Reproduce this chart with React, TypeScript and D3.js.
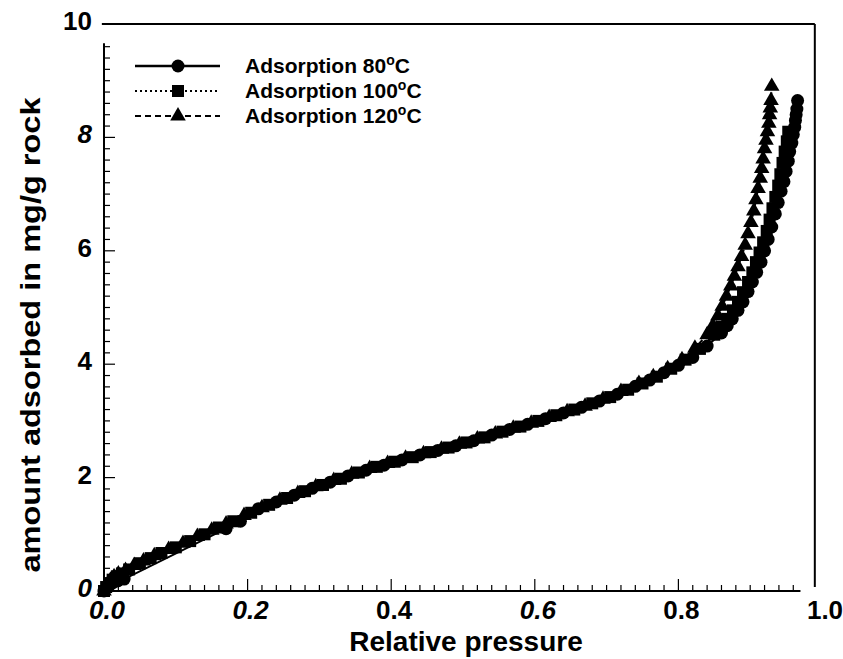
import React, { useRef, useEffect } from "react";
import * as d3 from "d3";

// adsorption isotherms
const pressure80 = [0, 0.004, 0.008, 0.013, 0.019, 0.028, 0.17, 0.19, 0.215, 0.24, 0.265, 0.29, 0.315, 0.34, 0.365, 0.39, 0.415, 0.44, 0.465, 0.49, 0.515, 0.54, 0.565, 0.59, 0.615, 0.64, 0.665, 0.69, 0.715, 0.74, 0.76, 0.78, 0.8, 0.82, 0.84, 0.86, 0.868, 0.875, 0.883, 0.89, 0.897, 0.903, 0.909, 0.915, 0.92, 0.925, 0.93, 0.935, 0.939, 0.943, 0.947, 0.95, 0.953, 0.955, 0.958, 0.96, 0.962, 0.963, 0.964, 0.965, 0.966];
const amount80 = [0, 0.06, 0.11, 0.15, 0.18, 0.21, 1.1, 1.23, 1.45, 1.57, 1.69, 1.81, 1.92, 2.03, 2.13, 2.22, 2.31, 2.4, 2.48, 2.56, 2.65, 2.75, 2.85, 2.94, 3.04, 3.14, 3.24, 3.35, 3.47, 3.61, 3.72, 3.85, 3.98, 4.12, 4.32, 4.55, 4.68, 4.8, 4.95, 5.1, 5.28, 5.45, 5.62, 5.8, 6.0, 6.2, 6.42, 6.65, 6.85, 7.05, 7.22, 7.4, 7.58, 7.75, 7.9, 8.05, 8.18, 8.3, 8.4, 8.5, 8.65];

const pressure100 = [0, 0.003, 0.007, 0.012, 0.018, 0.025, 0.035, 0.05, 0.065, 0.08, 0.1, 0.12, 0.14, 0.16, 0.18, 0.205, 0.23, 0.255, 0.28, 0.305, 0.33, 0.355, 0.38, 0.405, 0.43, 0.455, 0.48, 0.505, 0.53, 0.555, 0.58, 0.605, 0.63, 0.655, 0.68, 0.705, 0.73, 0.75, 0.77, 0.79, 0.81, 0.83, 0.85, 0.86, 0.868, 0.876, 0.883, 0.89, 0.897, 0.903, 0.908, 0.913, 0.918, 0.923, 0.927, 0.931, 0.935, 0.939, 0.942, 0.945, 0.948, 0.951, 0.953];
const amount100 = [0, 0.07, 0.14, 0.2, 0.26, 0.31, 0.38, 0.49, 0.58, 0.67, 0.77, 0.88, 1.0, 1.12, 1.23, 1.38, 1.52, 1.64, 1.76, 1.87, 1.98, 2.09, 2.19, 2.28, 2.36, 2.45, 2.53, 2.62, 2.71, 2.81, 2.9, 3.0, 3.1, 3.2, 3.31, 3.42, 3.55, 3.66, 3.78, 3.92, 4.08, 4.27, 4.52, 4.66, 4.8, 4.95, 5.1, 5.27, 5.45, 5.62, 5.8, 5.97, 6.15, 6.35, 6.55, 6.75, 6.95, 7.15, 7.35, 7.55, 7.75, 7.93, 8.1];

const pressure120 = [0, 0.002, 0.005, 0.009, 0.014, 0.02, 0.03, 0.042, 0.055, 0.07, 0.09, 0.11, 0.13, 0.15, 0.17, 0.195, 0.22, 0.245, 0.27, 0.295, 0.32, 0.345, 0.37, 0.395, 0.42, 0.445, 0.47, 0.495, 0.52, 0.545, 0.57, 0.595, 0.62, 0.645, 0.67, 0.695, 0.72, 0.745, 0.765, 0.785, 0.805, 0.823, 0.84, 0.848, 0.855, 0.861, 0.867, 0.873, 0.878, 0.883, 0.888, 0.893, 0.897, 0.901, 0.905, 0.908, 0.911, 0.914, 0.916, 0.918, 0.92, 0.922, 0.924, 0.926, 0.927, 0.928, 0.929, 0.93];
const amount120 = [0, 0.06, 0.12, 0.19, 0.25, 0.3, 0.36, 0.45, 0.53, 0.62, 0.73, 0.84, 0.96, 1.07, 1.18, 1.33, 1.47, 1.6, 1.72, 1.84, 1.95, 2.06, 2.16, 2.25, 2.34, 2.42, 2.5, 2.59, 2.68, 2.77, 2.87, 2.96, 3.06, 3.16, 3.26, 3.38, 3.52, 3.66, 3.78, 3.92, 4.08, 4.28, 4.52, 4.68, 4.85, 5.02, 5.2, 5.38, 5.55, 5.72, 5.9, 6.1, 6.3, 6.5, 6.7, 6.9, 7.1, 7.28, 7.45, 7.62, 7.8, 7.95, 8.1, 8.25, 8.4, 8.52, 8.65, 8.9];

const legendTemps = ["80", "100", "120"];
const xTickValues = [0, 0.2, 0.4, 0.6, 0.8, 1.0];
const xTickLabels = ["0.0", "0.2", "0.4", "0.6", "0.8", "1.0"];
const xTickItalic = [true, true, false, true, false, false];
const yTickValues = [0, 2, 4, 6, 8, 10];
const yTickLabels = ["0", "2", "4", "6", "8", "10"];
const yTickItalic = [true, false, false, false, true, false];

const FONT = "'Liberation Sans', Arial, Helvetica, sans-serif";

const App = () => {
  const chartRef = useRef<SVGSVGElement>(null);

  useEffect(() => {
    drawChart();
  }, []);

  const drawChart = () => {
    if (!chartRef.current) return;
    const svg = d3.select(chartRef.current);
    svg.selectAll("*").remove();

    const x = d3.scaleLinear().domain([0, 1]).range([104, 822]);
    const y = d3.scaleLinear().domain([0, 10]).range([591, 24]);

    const series = [
      { p: pressure80, v: amount80, dash: null, marker: "circle" },
      { p: pressure100, v: amount100, dash: "2,3", marker: "square" },
      { p: pressure120, v: amount120, dash: "6,4", marker: "triangle" },
    ];

    // frame and axes
    const frame = svg.append("g").attr("stroke", "#000").attr("stroke-width", 2).attr("fill", "none");
    frame.append("line").attr("x1", x(-0.003)).attr("x2", x(0.99)).attr("y1", y(10)).attr("y2", y(10));
    frame.append("line").attr("x1", x(0.99)).attr("x2", x(0.99)).attr("y1", y(10)).attr("y2", y(0.07));
    frame.append("line").attr("x1", x(0)).attr("x2", x(0)).attr("y1", y(9.66)).attr("y2", y(0));
    frame.append("line").attr("x1", x(0)).attr("x2", x(0.97)).attr("y1", y(0)).attr("y2", y(0));

    const xTicks = d3.range(1, 49).map((i) => ({ v: i * 0.02, major: i % 10 === 0 }));
    frame
      .selectAll(".xtick")
      .data(xTicks)
      .enter()
      .append("line")
      .attr("stroke-width", 1.2)
      .attr("x1", (d) => x(d.v))
      .attr("x2", (d) => x(d.v))
      .attr("y1", y(0))
      .attr("y2", (d) => y(0) - (d.major ? 12 : 6));

    const yTicks = d3.range(1, 49).map((i) => ({ v: i * 0.2, major: i % 10 === 0 }));
    frame
      .selectAll(".ytick")
      .data(yTicks)
      .enter()
      .append("line")
      .attr("stroke-width", 1.2)
      .attr("x1", x(0))
      .attr("x2", (d) => x(0) + (d.major ? 11 : 6))
      .attr("y1", (d) => y(d.v))
      .attr("y2", (d) => y(d.v));

    // tick labels
    svg
      .selectAll(".xlab")
      .data(xTickValues)
      .enter()
      .append("text")
      .attr("x", (d) => x(d) + 3)
      .attr("y", 619)
      .attr("text-anchor", "middle")
      .style("font-family", FONT)
      .style("font-weight", "bold")
      .style("font-size", "26px")
      .style("font-style", (d, i) => (xTickItalic[i] ? "italic" : "normal"))
      .text((d, i) => xTickLabels[i]);

    svg
      .selectAll(".ylab")
      .data(yTickValues)
      .enter()
      .append("text")
      .attr("x", 92)
      .attr("y", (d) => y(d) + 6)
      .attr("text-anchor", "end")
      .style("font-family", FONT)
      .style("font-weight", "bold")
      .style("font-size", "26px")
      .style("font-style", (d, i) => (yTickItalic[i] ? "italic" : "normal"))
      .text((d, i) => yTickLabels[i]);

    // axis titles
    svg
      .append("text")
      .attr("x", 466)
      .attr("y", 651)
      .attr("text-anchor", "middle")
      .style("font-family", FONT)
      .style("font-weight", "bold")
      .style("font-size", "28px")
      .text("Relative pressure");

    svg
      .append("text")
      .attr("transform", "translate(40,335) rotate(-90)")
      .attr("text-anchor", "middle")
      .attr("textLength", 475)
      .attr("lengthAdjust", "spacingAndGlyphs")
      .style("font-family", FONT)
      .style("font-weight", "bold")
      .style("font-size", "28px")
      .text("amount adsorbed in mg/g rock");

    const drawMarker = (g, kind, cx, cy) => {
      if (kind === "circle") {
        g.append("circle").attr("cx", cx).attr("cy", cy).attr("r", 6.5).attr("fill", "#000");
      } else if (kind === "square") {
        g.append("rect").attr("x", cx - 6).attr("y", cy - 6).attr("width", 12).attr("height", 12).attr("fill", "#000");
      } else {
        g.append("path")
          .attr("d", d3.symbol().type(d3.symbolTriangle).size(105)())
          .attr("transform", `translate(${cx},${cy})`)
          .attr("fill", "#000");
      }
    };

    const line = d3
      .line<number>()
      .x((d) => x(d[0]))
      .y((d) => y(d[1]));

    const plot = svg.append("g");
    series.forEach((s) => {
      const pts = s.p.map((p, i) => [p, s.v[i]]);
      plot
        .append("path")
        .attr("d", line(pts))
        .attr("fill", "none")
        .attr("stroke", "#000")
        .attr("stroke-width", 2)
        .attr("stroke-dasharray", s.dash);
    });
    series.forEach((s) => {
      s.p.forEach((p, i) => drawMarker(plot, s.marker, x(p), y(s.v[i])));
    });

    // legend
    const legend = svg.append("g");
    series.forEach((s, i) => {
      const ly = 66 + i * 25;
      legend
        .append("line")
        .attr("x1", 135)
        .attr("x2", 220)
        .attr("y1", ly)
        .attr("y2", ly)
        .attr("stroke", "#000")
        .attr("stroke-width", i === 0 ? 2.5 : 2)
        .attr("stroke-dasharray", s.dash);
      drawMarker(legend, s.marker, 178, ly);
      const t = legend
        .append("text")
        .attr("x", 245)
        .attr("y", ly + 7)
        .style("font-family", FONT)
        .style("font-weight", "bold")
        .style("font-size", "21px");
      t.append("tspan").text(`Adsorption ${legendTemps[i]}`);
      t.append("tspan").attr("dy", -8).style("font-size", "14px").text("o");
      t.append("tspan").attr("dy", 8).text("C");
    });
  };

  return (
    <svg
      ref={chartRef}
      width={843}
      height={659}
      style={{ position: "absolute", left: 0, top: 0, background: "#fff" }}
    />
  );
};

export default App;
